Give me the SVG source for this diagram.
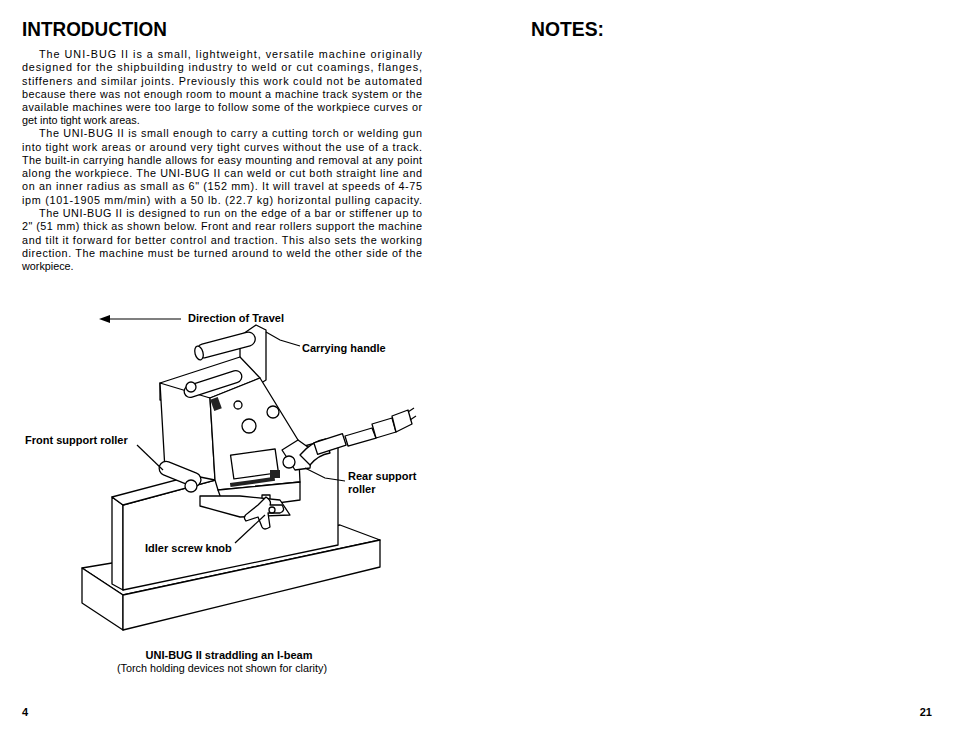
<svg xmlns="http://www.w3.org/2000/svg" width="954" height="738" viewBox="0 0 954 738">
<style>
text{font-family:"Liberation Sans",Arial,sans-serif;fill:#000}
.b{font-size:10.8px}
.h{font-size:20px;font-weight:bold}
.l{font-size:11px;font-weight:bold}
.s{fill:#fff;stroke:#000;stroke-width:1.3;stroke-linejoin:round}
.k{fill:none;stroke:#000;stroke-width:1.2}
.d{fill:#222}
</style>
<rect width="954" height="738" fill="#fff"/>
<text class="h" x="22" y="36" textLength="145" lengthAdjust="spacingAndGlyphs">INTRODUCTION</text>
<text class="h" x="531" y="36" textLength="73" lengthAdjust="spacingAndGlyphs">NOTES:</text>
<g class="b">
<text x="39" y="58" textLength="383" lengthAdjust="spacing">The UNI-BUG II is a small, lightweight, versatile machine originally</text>
<text x="22" y="71" textLength="400" lengthAdjust="spacing">designed for the shipbuilding industry to weld or cut coamings, flanges,</text>
<text x="22" y="84.5" textLength="400" lengthAdjust="spacing">stiffeners and similar joints. Previously this work could not be automated</text>
<text x="22" y="97.5" textLength="400" lengthAdjust="spacing">because there was not enough room to mount a machine track system or the</text>
<text x="22" y="110.5" textLength="400" lengthAdjust="spacing">available machines were too large to follow some of the workpiece curves or</text>
<text x="22" y="124">get into tight work areas.</text>
<text x="39" y="137" textLength="383" lengthAdjust="spacing">The UNI-BUG II is small enough to carry a cutting torch or welding gun</text>
<text x="22" y="150.5" textLength="400" lengthAdjust="spacing">into tight work areas or around very tight curves without the use of a track.</text>
<text x="22" y="163.5" textLength="400" lengthAdjust="spacing">The built-in carrying handle allows for easy mounting and removal at any point</text>
<text x="22" y="177" textLength="400" lengthAdjust="spacing">along the workpiece. The UNI-BUG II can weld or cut both straight line and</text>
<text x="22" y="190" textLength="400" lengthAdjust="spacing">on an inner radius as small as 6" (152 mm). It will travel at speeds of 4-75</text>
<text x="22" y="203.5" textLength="400" lengthAdjust="spacing">ipm (101-1905 mm/min) with a 50 lb. (22.7 kg) horizontal pulling capacity.</text>
<text x="39" y="217" textLength="383" lengthAdjust="spacing">The UNI-BUG II is designed to run on the edge of a bar or stiffener up to</text>
<text x="22" y="230" textLength="400" lengthAdjust="spacing">2" (51 mm) thick as shown below. Front and rear rollers support the machine</text>
<text x="22" y="243.5" textLength="400" lengthAdjust="spacing">and tilt it forward for better control and traction. This also sets the working</text>
<text x="22" y="256.5" textLength="400" lengthAdjust="spacing">direction. The machine must be turned around to weld the other side of the</text>
<text x="22" y="270">workpiece.</text>
</g>
<g id="beam">
<polygon class="s" points="82,568 340,525 380,540 123,595"/>
<polygon class="s" points="82,568 123,595 123,630 82,603"/>
<polygon class="s" points="123,595 380,540 380,567 123,630"/>
<polygon class="s" points="112,497 123,505 123,590 112,584"/>
<polygon class="s" points="123,505 338,447 338,545 123,590"/>
<polygon class="s" points="112,497 327,440 338,447 123,505"/>
</g>
<g id="machine">
<polygon class="s" points="240,336 256,325 266,330 266,380 258,385 240,390"/>
<rect class="s" x="196" y="338" width="60" height="14" rx="7" transform="rotate(-15 226 345)"/>
<ellipse class="s" cx="199" cy="353" rx="4" ry="7" transform="rotate(-15 199 353)"/>
<polygon class="s" points="160,383 240,357 260,378 210,398 160,400"/>
<polygon class="s" points="160,383 210,398 215,480 165,470"/>
<polygon class="s" points="210,398 260,378 298,440 300,482 218,490 215,480"/>
<polygon class="s" points="218,490 300,482 300,500 225,510"/>
<rect class="s" x="183" y="378" width="60" height="12" rx="6" transform="rotate(-18 213 384)"/>
<circle class="s" cx="191" cy="387" r="5"/>
<circle class="s" cx="238" cy="405" r="4"/>
<circle class="s" cx="249" cy="426" r="7"/>
<circle class="s" cx="273" cy="412" r="6"/>
<rect class="d" x="212" y="398" width="8" height="12" transform="rotate(-20 216 404)"/>
<rect class="s" x="232" y="452" width="45" height="24" transform="rotate(-8 254 464)"/>
<rect class="d" x="230" y="480" width="45" height="4" transform="rotate(-8 252 482)"/>
<rect class="s" x="262" y="495" width="8" height="14"/>
<rect class="d" x="270" y="470" width="10" height="8"/>
<polygon class="s" points="200,496 240,496 280,500 290,515 240,517 200,506"/>
<rect class="s" x="158" y="467" width="44" height="14" rx="7" transform="rotate(22 180 474)"/>
<circle class="s" cx="191" cy="486" r="6"/>
<polygon class="s" points="282,450 298,440 312,450 310,468 295,470"/>
<circle class="s" cx="289" cy="462" r="6"/>
<path class="s" d="M300,455 q12,-14 26,-16 l4,14 q-12,2 -20,12 z"/>
<rect class="s" x="315" y="438" width="30" height="12" transform="rotate(-18 330 444)"/>
<polygon class="s" points="345,436 372,428 376,438 348,446"/>
<polygon class="s" points="372,424 392,418 396,432 376,438"/>
<polygon class="s" points="392,416 408,410 412,424 396,432"/>
<line class="k" x1="408" y1="412" x2="414" y2="408"/>
<line class="k" x1="410" y1="420" x2="416" y2="416"/>
<path class="s" d="M258,505 l8,-8 q6,4 4,8 l12,0 q4,6 -2,8 l-12,0 l2,14 q-6,4 -8,0 l-4,-10 l-12,4 q-4,-4 2,-8 z"/>
<circle class="s" cx="272" cy="510" r="3"/>
</g>
<g id="connectors">
<line class="k" x1="108" y1="319" x2="181" y2="319"/>
<polygon points="99,319 110,315 110,323"/>
<polyline class="k" points="266,332 280,340 300,346"/>
<line class="k" x1="137" y1="445" x2="163" y2="470"/>
<polyline class="k" points="305,468 325,478 345,481"/>
<line class="k" x1="235" y1="543" x2="265" y2="515"/>
</g>
<g class="l">
<text x="188" y="322">Direction of Travel</text>
<text x="302" y="352">Carrying handle</text>
<text x="25" y="444">Front support roller</text>
<text x="348" y="480">Rear support</text>
<text x="348" y="493">roller</text>
<text x="145" y="552">Idler screw knob</text>
<text x="229" y="659" text-anchor="middle">UNI-BUG II straddling an I-beam</text>
<text x="22" y="716">4</text>
<text x="932" y="716" text-anchor="end">21</text>
</g>
<text class="b" x="222" y="672" text-anchor="middle">(Torch holding devices not shown for clarity)</text>
</svg>
